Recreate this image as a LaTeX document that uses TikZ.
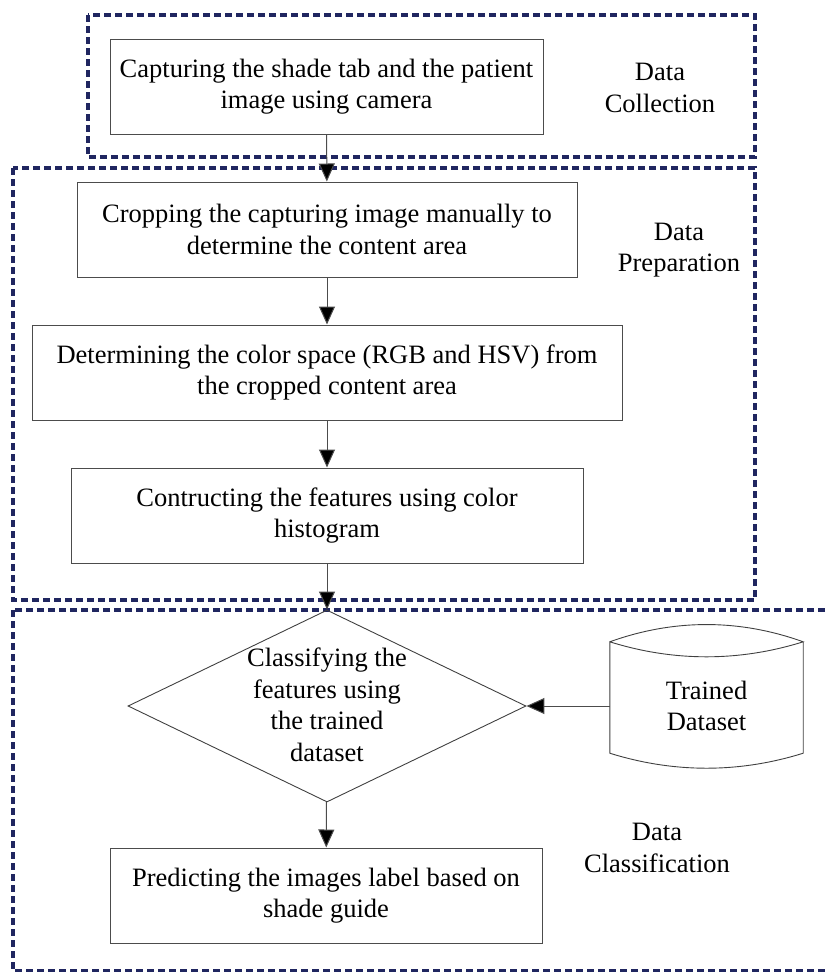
\documentclass[tikz,border=0pt]{standalone}
\usepackage{fontspec}
\setmainfont{Liberation Serif}
\usetikzlibrary{arrows.meta,shapes.geometric}
\definecolor{stagenavy}{RGB}{32,38,96}
\tikzset{
  stage/.style={draw=stagenavy, line width=3.5pt, dash pattern=on 7pt off 4pt},
  procbox/.style={draw=black!70, line width=1pt, align=center, inner sep=0pt,
                  minimum height=95pt},
  decision/.style={draw=black!75, line width=0.9pt, shape=diamond, inner sep=0pt},
  flow/.style={draw=black!70, line width=1pt, -{Triangle[width=16pt,length=18pt,fill=black]}},
}
\begin{document}
\begin{tikzpicture}[x=1pt, y=-1pt, font=\fontsize{26.5}{31.5}\selectfont]
    \useasboundingbox (0,0) rectangle (828,972);
    % stage frames
    \draw[stage] (88,15) rectangle (755,157);
    \draw[stage] (13,168) rectangle (755,600);
    \draw[stage] (13,610) rectangle (850,971);
    \node[align=center] (collect) at (660,88) {Data\\Collection};
    \node[align=center] (prepare) at (679,250) {Data\\Preparation};
    \node[align=center] (classlbl) at (657,848) {Data\\Classification};

    % process steps
    \node[procbox, minimum width=433pt] (capture) at (326.5,86.5)
        {Capturing the shade tab and the patient\\image using camera};
    \node[procbox, minimum width=500pt] (crop) at (327,229.5)
        {Cropping the capturing image manually to\\determine the content area};
    \node[procbox, minimum width=590pt] (colorspace) at (327,372.5)
        {Determining the color space (RGB and HSV) from\\the cropped content area};
    \node[procbox, minimum width=512pt] (features) at (327,515.5)
        {Contructing the features using color\\histogram};
    \node[decision, minimum width=398pt, minimum height=192pt] (classify) at (327,706) {};
    \node[align=center] (classifytxt) at (327,705)
        {Classifying the\\features using\\the trained\\dataset};
    \node[procbox, minimum width=432pt] (predict) at (326,895.5)
        {Predicting the images label based on\\shade guide};

    % trained dataset drum
    \node[minimum width=193pt, minimum height=111pt, inner sep=0pt] (trained) at (706.5,697.5) {};
    \draw[black!75, line width=0.9pt]
        (trained.north west) .. controls +(64,-23) and +(-64,-23) .. (trained.north east)
        .. controls +(-64,20) and +(64,20) .. (trained.north west)
        -- (trained.south west)
        .. controls +(64,20) and +(-64,20) .. (trained.south east)
        -- (trained.north east);
    \node[align=center] (trainedtxt) at (706.5,706) {Trained\\Dataset};

    % connectors
    \draw[flow] (capture) -- (crop);
    \draw[flow] (crop) -- (colorspace);
    \draw[flow] (colorspace) -- (features);
    \draw[flow] (features) -- (classify);
    \draw[flow] (classify) -- (predict);
    \draw[flow] (trained.west |- classify.east) -- (classify.east);
\end{tikzpicture}
\end{document}
